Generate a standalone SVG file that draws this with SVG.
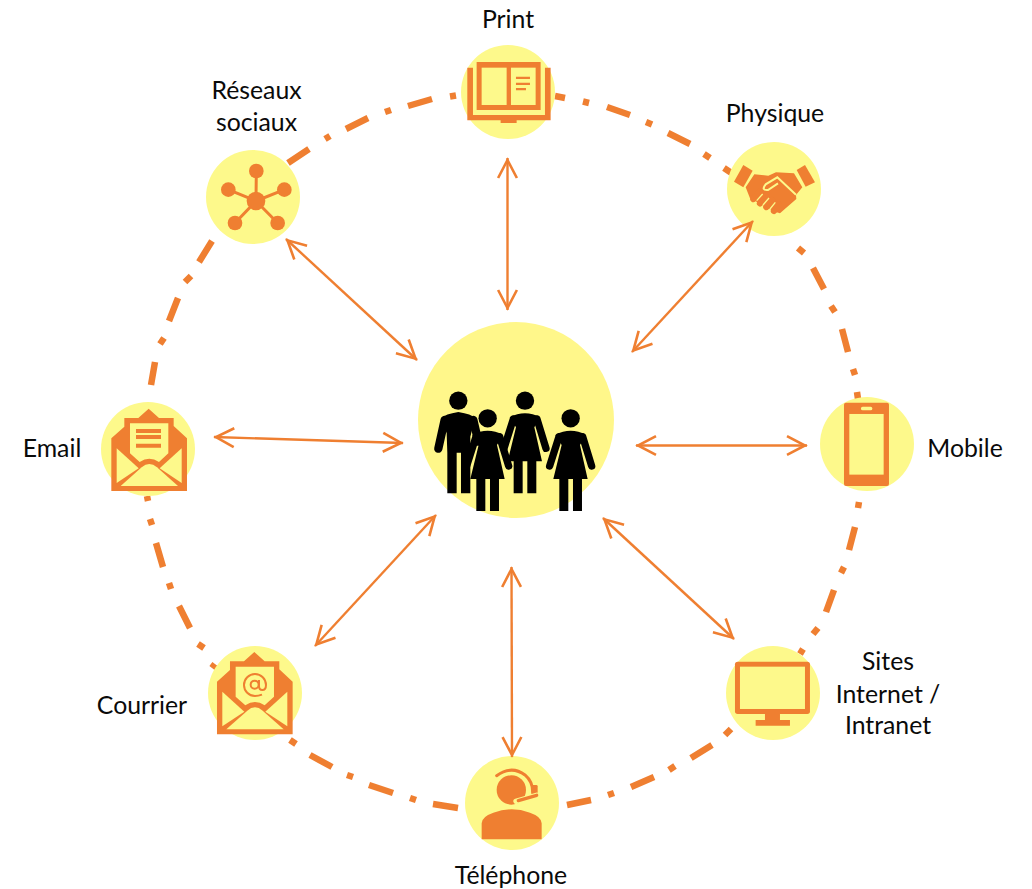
<svg xmlns="http://www.w3.org/2000/svg" xmlns:xlink="http://www.w3.org/1999/xlink" width="1032" height="889" viewBox="0 0 1032 889">
<style>
.disc{fill:#FDF98B}
.o{fill:#EF7F31}
.y{fill:#FDF98B}
.ring{fill:none;stroke:#EF7F31;stroke-width:6.5;stroke-linecap:butt}
.link{fill:none;stroke:#EF7F31;stroke-width:2.4;marker-start:url(#head);marker-end:url(#head)}
.lbl{font-family:Lato,"Open Sans","Liberation Sans",sans-serif;font-size:24.8px;fill:#0a0a0a;text-anchor:middle}
.k{fill:#000}
.ka{fill:none;stroke:#000;stroke-linecap:round}
</style>
<defs>
<marker id="head" markerUnits="userSpaceOnUse" markerWidth="26" markerHeight="24" viewBox="-2 -2 26 24" refX="21" refY="10" orient="auto-start-reverse">
<path d="M1,0.6 L19,10 L1,19.4" fill="none" stroke="#EF7F31" stroke-width="2.6"/>
</marker>
<g id="env">
<path class="o" d="M64,145 L103,110 L103,84 L145,84 L176,56 L207,84 L251,84 L251,108 L291,145 L291,303 L64,303Z"/>
<path class="y" d="M120,100 H235 V190 L207,216 Q178,196 149,216 L120,190Z"/>
<path class="y" d="M80,175 L146,235 L80,279Z"/>
<path class="y" d="M275,175 L209,235 L275,279Z"/>
<path class="y" d="M92,288 L155,232 Q178,212 201,232 L264,288Z"/>
</g>
<g id="woman">
<circle class="k" cx="482" cy="145" r="27.5"/>
<path class="k" d="M436,195 Q482,170 528,195 L510,225 L533,327 H516 V423 H489 V327 H475 V423 H448 V327 H430 L455,225Z"/>
<path class="ka" stroke-width="22" d="M447,200 L419,288"/>
<path class="ka" stroke-width="22" d="M518,200 L545,288"/>
</g>
</defs>

<g id="ring">
<path class="ring" d="M288,163L309,149M325,139L330,136M346,129L368,118M385,112L391,110M408,106L432,99M450,96.500L456,95.500"/>
<path class="ring" d="M555,96L565,98M583,101.500L589,103M607,107L630,115M646,122L652,124.500M668,133L690,144M704,154L710,158M724,168L733,174"/>
<path class="ring" d="M798,248L804,253M813,268L824,289M831,306L835,312M842,329L848,352M853,369L855,375M857,392L858,399"/>
<path class="ring" d="M859,502L858,508M855,527L849,550M844,567L841,573M834,590L826,612M818,628L813,634M803,649L800,654"/>
<path class="ring" d="M731,729L725,735M712,745L691,758M675,766L669,770M654,777L631,787M614,793L608,795M591,800L567,805"/>
<path class="ring" d="M458,808L433,804M416,800L410,798M393,793L369,785M353,777L347,775M332,767L310,755M296,744L290,740"/>
<path class="ring" d="M215,664L212,668M204,648L198,644M190,628L179,606M171,589L169,583M163,567L156,543M152,525L150,519M148,501L147,496"/>
<path class="ring" d="M151,385L155,362M160,344L164,338M169,321L178,298M185,282L191,276M199,262L212,241"/>
</g>

<g id="node-centre">
<circle cx="516" cy="420" r="98" fill="#FFF78A"/>
<g transform="translate(410 370) scale(.3333)">
<circle class="k" cx="145" cy="92" r="27.500"/>
<path class="k" d="M95,145 Q105,132 145,126 Q185,132 195,145 L181,200 V248 V370 H153 V248 H140 V370 H112 V248 L110,190Z"/>
<path class="ka" stroke-width="25" d="M104,150 L85,236"/>
<path class="ka" stroke-width="25" d="M190,150 L205,215"/>
<use xlink:href="#woman" href="#woman" x="-137" y="-53"/>
<use xlink:href="#woman" href="#woman" x="-249" y="0"/>
<use xlink:href="#woman" href="#woman"/>
</g>
</g>

<g id="node-print">
<circle class="disc" cx="508" cy="92" r="47"/>
<g transform="translate(190 40) scale(.3333)">
<path class="o" d="M860,66 H1052 V210 H860Z"/>
<rect class="y" x="875" y="83" width="75" height="112"/>
<rect class="y" x="963" y="83" width="74" height="112"/>
<path class="o" d="M832,83 H849 V225 H1065 V83 H1082 V241 H980 V249 H932 V241 H832Z"/>
<path class="o" d="M978,110h42v7h-42zM978,128h42v7h-42zM978,144h30v7h-30z"/>
</g>
</g>

<g id="node-reseaux">
<circle class="disc" cx="253" cy="197" r="47"/>
<g transform="translate(190 40) scale(.3333)">
<path d="M198,483L199,393M198,483L115,449M198,483L283,449M198,483L135,549M198,483L263,549" stroke="#EF7F31" stroke-width="9" fill="none"/>
<circle class="o" cx="198" cy="483" r="28"/>
<circle class="o" cx="199" cy="393" r="22"/>
<circle class="o" cx="115" cy="449" r="22"/>
<circle class="o" cx="283" cy="449" r="22"/>
<circle class="o" cx="135" cy="549" r="22"/>
<circle class="o" cx="263" cy="549" r="22"/>
</g>
</g>

<g id="node-physique">
<circle class="disc" cx="774" cy="189" r="47"/>
<g transform="translate(700 130) scale(.3333)">
<path class="o" d="M130,105L158,122L130,172L102,155Z"/>
<path class="o" d="M315,105L345,157L317,170L290,120Z"/>
<path class="o" d="M137,172L163,133L205,137L228,127L282,130L307,172L288,195L289,207L240,250L225,245L150,205Z"/>
<path d="M288,194L232,142L197,163Q182,182 204,180L234,160" fill="none" stroke="#FDF98B" stroke-width="6"/>
<path d="M160,207L178,186M180,220L197,198M199,231L216,210M222,243L236,224" stroke="#EF7F31" stroke-width="19" stroke-linecap="round" fill="none"/>
<path d="M170,212L188,192M189,225L207,204M210,237L226,217" stroke="#FDF98B" stroke-width="4" fill="none"/>
</g>
</g>

<g id="node-mobile">
<circle class="disc" cx="867" cy="444" r="47"/>
<g transform="translate(700 130) scale(.3333)">
<rect class="o" x="432" y="818" width="135" height="250" rx="6"/>
<rect class="y" x="448" y="852" width="103" height="182"/>
<rect class="y" x="483" y="830" width="34" height="11" rx="5"/>
</g>
</g>

<g id="node-sites">
<circle class="disc" cx="773" cy="693" r="47"/>
<g transform="translate(440 640) scale(.3333)">
<rect class="o" x="885" y="65" width="225" height="157" rx="8"/>
<rect class="y" x="900" y="80" width="195" height="127"/>
<path class="o" d="M975,222H1020V240H1050V257H947V240H975Z"/>
</g>
</g>

<g id="node-telephone">
<circle class="disc" cx="512" cy="803" r="47"/>
<g transform="translate(440 640) scale(.3333)">
<path class="o" d="M125,598 V550 Q125,530 160,518 Q215,498 270,518 Q305,530 305,550 V598Z"/>
<circle class="o" cx="214" cy="450" r="44"/>
<path d="M170,407 Q215,375 255,405 Q278,425 278,455" fill="none" stroke="#FDF98B" stroke-width="17"/>
<path d="M170,407 Q215,375 255,405 Q278,425 278,455" fill="none" stroke="#EF7F31" stroke-width="9" stroke-linecap="round"/>
<rect class="o" x="274" y="435" width="19" height="35" rx="4"/>
<path d="M228,484 L290,466" fill="none" stroke="#FDF98B" stroke-width="16" stroke-linecap="round"/>
<path d="M235,482 L290,466" fill="none" stroke="#EF7F31" stroke-width="10" stroke-linecap="round"/>
</g>
</g>

<g id="node-email">
<circle class="disc" cx="148" cy="449" r="47"/>
<g transform="translate(90 390) scale(.3333)">
<use xlink:href="#env" href="#env"/>
<path class="o" d="M138,117h75v12h-75zM138,135h75v12h-75zM138,161h75v12h-75z"/>
</g>
</g>

<g id="node-courrier">
<circle class="disc" cx="255" cy="693" r="47"/>
<g transform="translate(90 390) scale(.3333)">
<use xlink:href="#env" href="#env" x="317" y="730"/>
<g fill="none" stroke="#EF7F31" stroke-width="6">
<circle cx="494" cy="884" r="12"/>
<path d="M516,914 Q505,918 495,918 A33,33 0 1 1 528,885 Q528,900 517,900 Q507,900 507,888 V870"/>
</g>
</g>
</g>

<g id="connectors">
<line class="link" x1="507.500" y1="158" x2="507.500" y2="310"/>
<line class="link" x1="286" y1="239" x2="417" y2="360"/>
<line class="link" x1="753" y1="221" x2="632" y2="352"/>
<line class="link" x1="636" y1="445.500" x2="807" y2="445.500"/>
<line class="link" x1="214" y1="437" x2="403" y2="443"/>
<line class="link" x1="436" y1="515" x2="315" y2="646"/>
<line class="link" x1="511.500" y1="567" x2="512" y2="757"/>
<line class="link" x1="603" y1="518" x2="734" y2="639"/>
</g>

<g id="labels">
<text class="lbl" x="256.500" y="99">Réseaux</text>
<text class="lbl" x="256.500" y="131">sociaux</text>
<text class="lbl" x="508" y="28">Print</text>
<text class="lbl" x="775" y="122">Physique</text>
<text class="lbl" x="965" y="457">Mobile</text>
<text class="lbl" x="52" y="457">Email</text>
<text class="lbl" x="142" y="714">Courrier</text>
<text class="lbl" x="888" y="670">Sites</text>
<text class="lbl" x="888" y="703">Internet /</text>
<text class="lbl" x="888" y="734">Intranet</text>
<text class="lbl" x="511" y="884">Téléphone</text>
</g>
</svg>
